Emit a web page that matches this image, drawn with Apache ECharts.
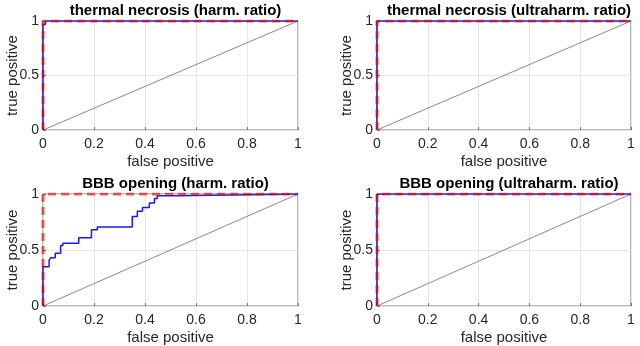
<!DOCTYPE html>
<html>
<head>
<meta charset="utf-8">
<script src="https://cdn.jsdelivr.net/npm/echarts@6/dist/echarts.min.js"></script>
<style>
  html, body { margin: 0; padding: 0; background: #fff; }
  #chart { width: 640px; height: 346px; }
</style>
</head>
<body>
<div id="chart"></div>
<script>
// panel titles (row by row)
var titles = [
  'thermal necrosis (harm. ratio)',
  'thermal necrosis (ultraharm. ratio)',
  'BBB opening (harm. ratio)',
  'BBB opening (ultraharm. ratio)'
];

// tick labels
var xTicks = ['0', '0.2', '0.4', '0.6', '0.8', '1'];
var yTicks = ['0', '0.5', '1'];

// perfect classifier (red dashed), same in every panel
var idealFpr = [0, 0, 1];
var idealTpr = [0, 1, 1];

// measured ROC curves (blue), step corners
var tnHarmFpr = [0, 0, 0.01, 1];
var tnHarmTpr = [0, 0.97, 1, 1];
var tnUltraFpr = [0, 0, 1];
var tnUltraTpr = [0, 1, 1];
var bbbHarmFpr = [0, 0, 0.024, 0.03, 0.048, 0.069, 0.078, 0.14, 0.19, 0.213, 0.35, 0.37, 0.39, 0.417, 0.437, 0.448, 0.53, 1];
var bbbHarmTpr = [0, 0.35, 0.41, 0.43, 0.47, 0.54, 0.56, 0.61, 0.68, 0.705, 0.80, 0.845, 0.88, 0.92, 0.96, 0.985, 1, 1];
var bbbUltraFpr = [0, 0, 1];
var bbbUltraTpr = [0, 1, 1];

// chance line
var chanceX = [0, 1];
var chanceY = [0, 1];

var curves = [
  [tnHarmFpr, tnHarmTpr],
  [tnUltraFpr, tnUltraTpr],
  [bbbHarmFpr, bbbHarmTpr],
  [bbbUltraFpr, bbbUltraTpr]
];

function pairs(xs, ys) {
  return xs.map(function (x, i) { return [x, ys[i]]; });
}

// plot boxes in pixels
var boxes = [
  { left: 43, top: 21, width: 255, height: 109 },
  { left: 377, top: 21, width: 254, height: 109 },
  { left: 43, top: 194, width: 255, height: 112 },
  { left: 377, top: 194, width: 254, height: 112 }
];

var textColor = '#262626';
var font = 'Liberation Sans, Arial, Helvetica, sans-serif';

var grids = [], xAxes = [], yAxes = [], series = [], titleList = [];

boxes.forEach(function (b, i) {
  grids.push({
    left: b.left, top: b.top, width: b.width, height: b.height,
    show: true, borderColor: '#6e6e6e', borderWidth: 1, backgroundColor: '#fff'
  });
  titleList.push({
    text: titles[i],
    left: b.left + b.width / 2,
    top: b.top - 23,
    textAlign: 'center',
    textStyle: { fontFamily: font, fontSize: 15, fontWeight: 'bold', color: '#000' }
  });
  xAxes.push({
    gridIndex: i, type: 'value', min: 0, max: 1, interval: 0.2,
    name: 'false positive', nameLocation: 'middle', nameGap: 24,
    nameMoveOverlap: false,
    nameTextStyle: { fontFamily: font, fontSize: 15, color: textColor },
    axisLine: { show: false },
    axisTick: { show: true, inside: true, length: 3, lineStyle: { color: '#6e6e6e' } },
    axisLabel: {
      fontFamily: font, fontSize: 14, color: textColor, margin: 7,
      formatter: function (v) { return xTicks[Math.round(v / 0.2)]; }
    },
    splitLine: { show: true, lineStyle: { color: '#e6e6e6', width: 1 } }
  });
  yAxes.push({
    gridIndex: i, type: 'value', min: 0, max: 1, interval: 0.5,
    name: 'true positive', nameLocation: 'middle', nameGap: 23,
    nameMoveOverlap: false,
    nameTextStyle: { fontFamily: font, fontSize: 15, color: textColor },
    axisLine: { show: false },
    axisTick: { show: true, inside: true, length: 3, lineStyle: { color: '#6e6e6e' } },
    axisLabel: {
      fontFamily: font, fontSize: 14, color: textColor, margin: 4,
      formatter: function (v) { return yTicks[Math.round(v / 0.5)]; }
    },
    splitLine: { show: true, lineStyle: { color: '#e6e6e6', width: 1 } }
  });

  // chance diagonal
  series.push({
    type: 'line', xAxisIndex: i, yAxisIndex: i, symbol: 'none', silent: true,
    data: pairs(chanceX, chanceY),
    lineStyle: { color: '#555', width: 0.7 }
  });
  // measured curve
  series.push({
    type: 'line', xAxisIndex: i, yAxisIndex: i, symbol: 'none', silent: true,
    step: 'end',
    data: pairs(curves[i][0], curves[i][1]),
    lineStyle: { color: '#1a1ae6', width: 1.5 }
  });
  // ideal curve
  series.push({
    type: 'line', xAxisIndex: i, yAxisIndex: i, symbol: 'none', silent: true,
    data: pairs(idealFpr, idealTpr),
    lineStyle: { color: 'rgba(232,0,0,0.62)', width: 3, type: [8, 5] }
  });
});

var chart = echarts.init(document.getElementById('chart'), null, { renderer: 'canvas' });
chart.setOption({
  animation: false,
  backgroundColor: '#fff',
  title: titleList,
  grid: grids,
  xAxis: xAxes,
  yAxis: yAxes,
  series: series
});
</script>
</body>
</html>
